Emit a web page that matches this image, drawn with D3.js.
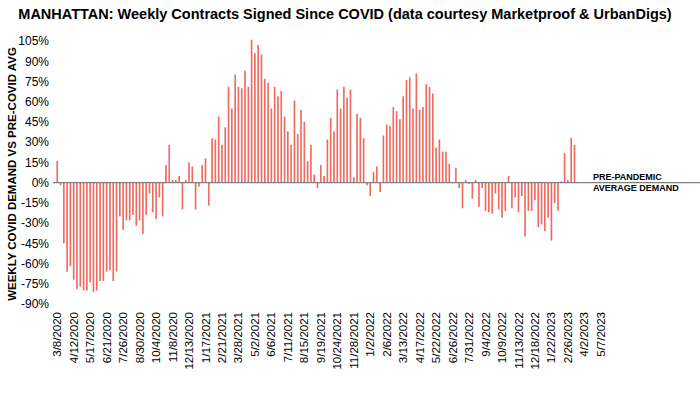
<!DOCTYPE html>
<html>
<head>
<meta charset="utf-8">
<script src="https://cdn.jsdelivr.net/npm/d3@7"></script>
<style>
    body { margin: 0; background: #ffffff; }
    svg { display: block; font-family: "Liberation Sans", Arial, sans-serif; }
</style>
</head>
<body>
<div id="chart"></div>
<script>
// weekly demand vs pre-covid average, in percent, first week is 3/8/2020
var firstWeek = "2020-03-08";
var weeklyDemand = [
    16, -2, -45, -66, -62, -72, -79, -77, -80, -80,
    -74, -81, -80, -73, -73, -66, -65, -73, -66, -25,
    -35, -28, -28, -24, -32, -28, -38, -24, -8, -22,
    -27, -11, -25, 13, 28, 2, 2, 5, -20, 2,
    15, 12, -20, -3, 13, 18, -17, 33, 32, 49,
    28, 41, 71, 55, 80, 71, 70, 83, 71, 106,
    96, 102, 95, 77, 74, 55, 71, 64, 68, 49,
    38, 28, 61, 36, 54, 45, 16, 28, 6, -4,
    13, 5, 32, 48, 38, 69, 55, 71, 63, 69,
    4, 51, 48, 33, -2, -10, 8, 12, -7, 35,
    43, 42, 56, 53, 47, 64, 76, 78, 55, 81,
    54, 56, 73, 71, 66, 26, 32, 23, 23, 14,
    -0.5, 11, -4, -19, 2, -1, -12, 2, -18, -4,
    -21, -22, -23, -8, -20, -26, -21, 5, -19, -11,
    -22, -10, -40, -21, -21, -13, -33, -31, -36, -26,
    -43, -15, -21, 1, 22, 2, 33, 28
];
// axis keeps going past the last data week
var totalWeeks = 170;
var labelEvery = 5;
var yTicks = [105, 90, 75, 60, 45, 30, 15, 0, -15, -30, -45, -60, -75, -90];

var title = "MANHATTAN: Weekly Contracts Signed Since COVID (data courtesy Marketproof & UrbanDigs)";
var yTitle = "WEEKLY COVID DEMAND VS PRE-COVID AVG";
var refNote = ["PRE-PANDEMIC", "AVERAGE DEMAND"];

var width = 700, height = 394;

// build week labels like 3/8/2020
var parse = d3.timeParse("%Y-%m-%d");
var start = parse(firstWeek);
var weeks = d3.range(totalWeeks).map(function (i) {
    var d = d3.timeWeek.offset(start, i);
    return (d.getMonth() + 1) + "/" + d.getDate() + "/" + d.getFullYear();
});

var svg = d3.select("#chart").append("svg")
    .attr("width", width)
    .attr("height", height);

var x = d3.scaleBand()
    .domain(weeks)
    .range([56.4, 56.4 + 3.285 * totalWeeks])
    .paddingInner(0.5);

var y = d3.scaleLinear()
    .domain([-90, 105])
    .range([304, 41]);

// title
svg.append("text")
    .attr("x", 345)
    .attr("y", 19)
    .attr("text-anchor", "middle")
    .style("font-size", "14.5px")
    .style("font-weight", "bold")
    .text(title);

// y axis (labels only, no line)
var yAxis = svg.append("g")
    .attr("transform", "translate(50,0)")
    .call(d3.axisLeft(y).tickValues(yTicks).tickSize(0).tickPadding(1)
        .tickFormat(function (d) { return d + "%"; }));
yAxis.select(".domain").remove();
yAxis.selectAll("text")
    .style("font-family", "Liberation Sans, Arial, sans-serif")
    .style("font-size", "12px")
    .attr("fill", "#000");

svg.append("text")
    .attr("transform", "translate(16," + 174 + ") rotate(-90)")
    .attr("text-anchor", "middle")
    .style("font-size", "11.5px")
    .style("font-weight", "bold")
    .text(yTitle);

// bars
svg.append("g").selectAll("rect")
    .data(weeklyDemand)
    .enter().append("rect")
    .attr("x", function (d, i) { return x(weeks[i]); })
    .attr("width", x.bandwidth())
    .attr("y", function (d) { return y(Math.max(0, d)); })
    .attr("height", function (d) { return Math.abs(y(d) - y(0)); })
    .attr("fill", "#F06A60");

// zero line, runs across to the note
svg.append("line")
    .attr("x1", 53)
    .attr("x2", 700)
    .attr("y1", y(0))
    .attr("y2", y(0))
    .attr("stroke", "#7f7f7f")
    .attr("stroke-width", 1.2);

// x axis labels every 5 weeks
var xAxis = svg.append("g")
    .attr("transform", "translate(0," + 309 + ")")
    .call(d3.axisBottom(x)
        .tickValues(weeks.filter(function (d, i) { return i % labelEvery === 0; }))
        .tickSize(0).tickPadding(0));
xAxis.select(".domain").remove();
xAxis.selectAll("text")
    .style("font-family", "Liberation Sans, Arial, sans-serif")
    .style("font-size", "11.5px")
    .attr("fill", "#000")
    .attr("text-anchor", "end")
    .attr("dy", "0.35em")
    .attr("transform", "rotate(-90)")
    .attr("x", -3)
    .attr("y", 0);

// note at the end of the zero line
svg.append("g").selectAll("text")
    .data(refNote)
    .enter().append("text")
    .attr("x", 593)
    .attr("y", function (d, i) { return 180 + i * 10.5; })
    .style("font-size", "9px")
    .style("font-weight", "bold")
    .text(function (d) { return d; });
</script>
</body>
</html>
